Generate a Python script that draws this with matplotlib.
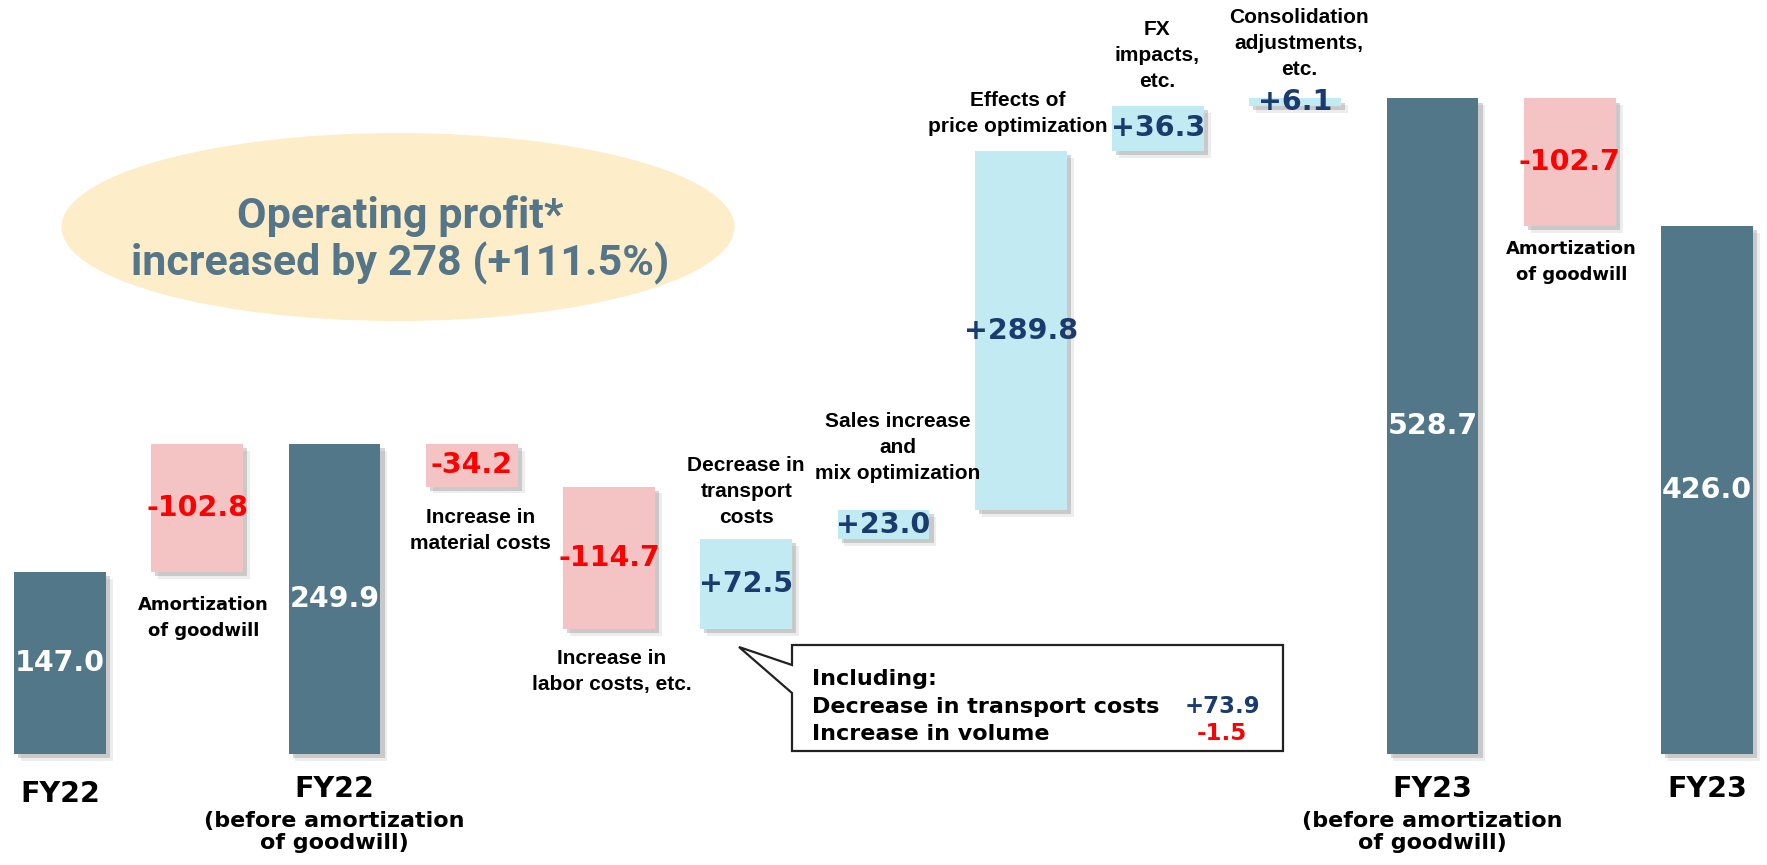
import matplotlib
matplotlib.use("Agg")
import matplotlib.pyplot as plt
import matplotlib.patheffects as pe
from matplotlib.patches import Ellipse, Polygon

# chart data
categories = ["FY22", "Amortization\nof goodwill", "FY22", "Increase in\nmaterial costs",
              "Increase in\nlabor costs, etc.", "Decrease in\ntransport\ncosts",
              "Sales increase\nand\nmix optimization", "Effects of\nprice optimization",
              "FX\nimpacts,\netc.", "Consolidation\nadjustments,\netc.", "FY23",
              "Amortization\nof goodwill", "FY23"]
values = [147.0, -102.8, 249.9, -34.2, -114.7, 72.5, 23.0, 289.8, 36.3, 6.1, 528.7, -102.7, 426.0]
is_total = [True, False, True, False, False, False, False, False, False, False, True, False, True]
# goodwill amortization is added back on the way to the "before amortization" total
added_back = [False, True, False, False, False, False, False, False, False, False, False, False, False]
sub_labels = {2: "(before amortization\nof goodwill)", 10: "(before amortization\nof goodwill)"}
headline = "Operating profit*\nincreased by 278 (+111.5%)"
callout_rows = ["Decrease in transport costs", "Increase in volume"]
callout_values = [73.9, -1.5]

DARK = "#527789"
PINK = "#F4C4C5"
LIGHT = "#C2EAF3"
NAVY = "#1B3A6E"
RED = "#FF0000"

W, H = 1767, 865
fig = plt.figure(figsize=(W / 100, H / 100), dpi=100)
ax = fig.add_axes([0, 0, 1, 1])
ax.set_xlim(-0.437, 12.437)
ax.set_ylim(-89.5, 608)
ax.axis("off")


def fpx(x, y):
    # pixel position (from top-left) -> figure fraction
    return (x / W, 1 - y / H)


shadow = [pe.SimplePatchShadow(offset=(5, -5), shadow_rgbFace="#888888", alpha=0.15),
          pe.SimplePatchShadow(offset=(3, -3), shadow_rgbFace="#777777", alpha=0.3),
          pe.Normal()]

# waterfall bars
running = 0.0
bottoms, heights = [], []
for v, tot, ab in zip(values, is_total, added_back):
    if tot:
        bottoms.append(0.0)
        heights.append(v)
        running = v
    else:
        delta = -v if ab else v
        bottoms.append(running + min(delta, 0))
        heights.append(abs(delta))
        running += delta

x = list(range(len(values)))
colors = [DARK if t else (PINK if v < 0 else LIGHT) for v, t in zip(values, is_total)]
bars = ax.bar(x, heights, bottom=bottoms, width=0.67, color=colors, zorder=2)
for b in bars:
    b.set_path_effects(shadow)

# value labels in the middle of each bar
for i, (v, tot) in enumerate(zip(values, is_total)):
    txt = f"{v:.1f}" if tot else f"{v:+.1f}"
    col = "white" if tot else (RED if v < 0 else NAVY)
    ax.text(i, bottoms[i] + heights[i] / 2, txt, ha="center", va="center",
            fontsize=20.5, fontweight="bold", color=col, family="DejaVu Sans", zorder=4)

# step descriptions (offsets in pixels: dx, dy)
step_offsets = {1: (6, -24), 3: (9, -21), 4: (3, -20), 5: (0, 12), 6: (14, 27),
                7: (-3, 15), 8: (-1, 15), 9: (4, 19), 11: (2, -14)}
for i, (dx, dy) in step_offsets.items():
    below = dy < 0
    y = bottoms[i] if below else bottoms[i] + heights[i]
    amort = "Amortization" in categories[i]
    ax.annotate(categories[i], xy=(i, y), xytext=(dx, dy), textcoords="offset pixels",
                ha="center", va="top" if below else "bottom",
                fontsize=13 if amort else 15, fontweight="bold",
                family="DejaVu Sans" if amort else "Liberation Sans",
                linespacing=1.58 if amort else 1.47, color="black", zorder=4)

# totals under the bars
for i, tot in enumerate(is_total):
    if not tot:
        continue
    ax.annotate(categories[i], xy=(i, 0), xytext=(0, -26 if i == 0 else -21),
                textcoords="offset pixels", ha="center", va="top", fontsize=20.5,
                fontweight="bold", family="DejaVu Sans")
    if i in sub_labels:
        ax.annotate(sub_labels[i], xy=(i, 0), xytext=(0, -57), textcoords="offset pixels",
                    ha="center", va="top", fontsize=16, fontweight="bold",
                    family="DejaVu Sans", linespacing=1.12)

# headline ellipse
ell = Ellipse(fpx(398, 227), 673 / W, 188 / H, transform=fig.transFigure,
              facecolor="#FEEDC9", edgecolor="none", zorder=1)
fig.patches.append(ell)
fig.text(*fpx(400, 240), headline, ha="center", va="center", fontsize=31,
         fontweight="bold", family="Roboto", color="#557689",
         linespacing=1.13, zorder=2)

# callout box
pts = [(792, 645), (1283, 645), (1283, 751), (792, 751), (792, 693), (739, 647), (792, 665)]
callout = Polygon([fpx(*p) for p in pts], closed=True, transform=fig.transFigure,
                  facecolor="white", edgecolor="#222222", linewidth=1.6, zorder=5)
fig.patches.append(callout)
fig.text(*fpx(812, 685), "Including:", ha="left", va="baseline", fontsize=16,
         fontweight="bold", family="DejaVu Sans", zorder=6)
for k, (row, val) in enumerate(zip(callout_rows, callout_values)):
    yb = 713 + k * 27
    fig.text(*fpx(812, yb), row, ha="left", va="baseline", fontsize=16,
             fontweight="bold", family="DejaVu Sans", zorder=6)
    fig.text(*fpx(1222, yb), f"{val:+.1f}", ha="center", va="baseline", fontsize=16.5,
             fontweight="bold", family="DejaVu Sans", color=NAVY if val > 0 else RED,
             zorder=6)

fig.savefig("out.png", dpi=100)
